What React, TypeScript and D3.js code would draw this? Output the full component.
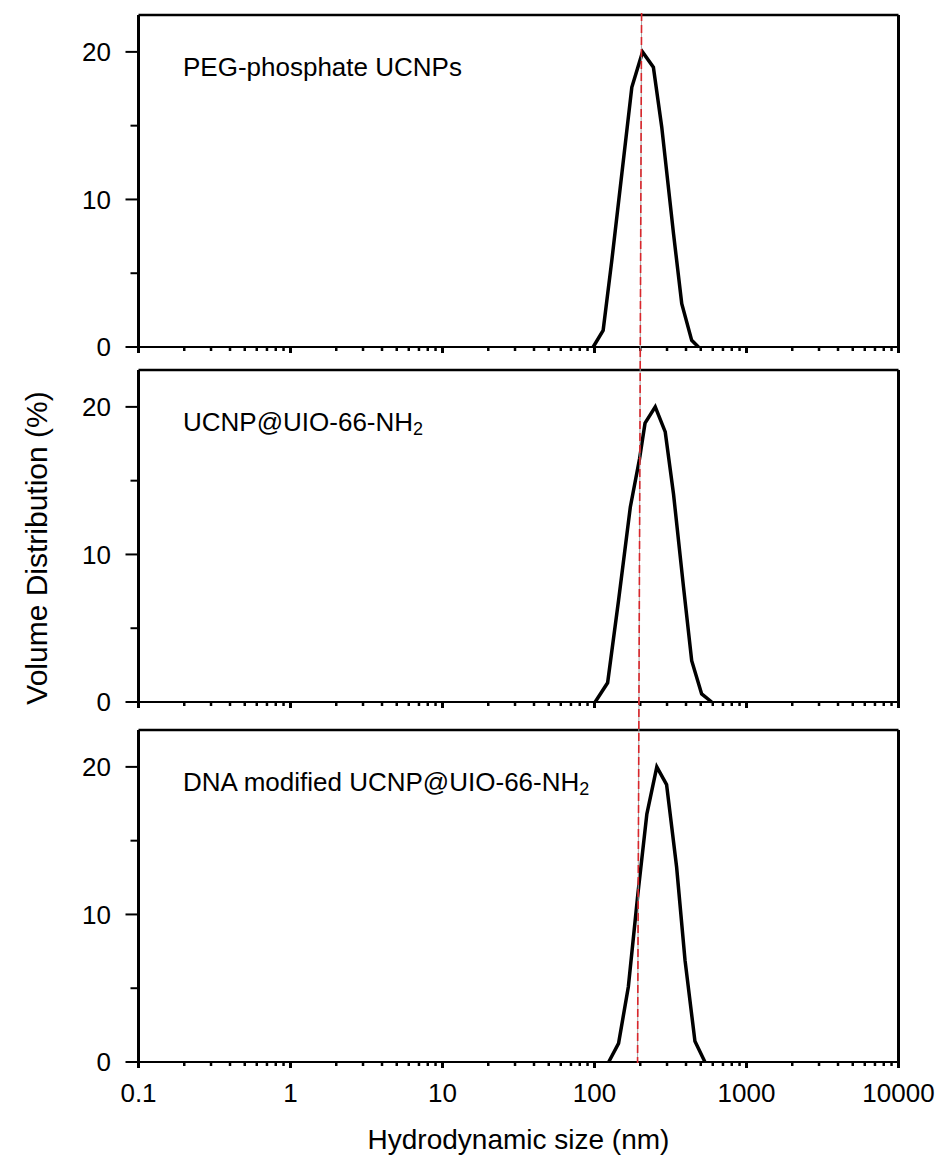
import React from "react";
import * as d3 from "d3";

// ---- data ----
const panelLabels = ["PEG-phosphate UCNPs", "UCNP@UIO-66-NH", "DNA modified UCNP@UIO-66-NH"];
const panelSubscripts = ["", "2", "2"];

const sizesPEG = [98, 114, 130, 176, 207, 244, 277, 331, 375, 436, 483];
const volPEG = [0, 1.13, 5.87, 17.6, 20.0, 18.96, 14.9, 7.68, 2.94, 0.45, 0];

const sizesMOF = [101, 122, 144, 172, 198, 215, 251, 292, 331, 385, 436, 507, 590];
const volMOF = [0, 1.3, 6.9, 13.2, 16.5, 18.9, 20.0, 18.3, 14.1, 7.8, 2.8, 0.55, 0];

const sizesDNA = [124, 144, 167, 193, 221, 257, 298, 347, 394, 458, 533];
const volDNA = [0, 1.26, 5.1, 11.4, 16.8, 20.0, 18.8, 13.2, 6.9, 1.4, 0];

const xTickValues = [0.1, 1, 10, 100, 1000, 10000];
const xTickLabels = ["0.1", "1", "10", "100", "1000", "10000"];
const yTickValues = [0, 10, 20];
const yMinorValues = [5, 15];
const refLineSizes = [204, 192]; // top, bottom of dashed reference line

const series = [
  { x: sizesPEG, y: volPEG },
  { x: sizesMOF, y: volMOF },
  { x: sizesDNA, y: volDNA },
];

// ---- layout ----
const W = 941;
const H = 1157;
const left = 138.5;
const right = 898.5;
const panelBottoms = [347, 702, 1062];
const panelHeight = 332;
const FONT = "'Liberation Sans', Arial, Helvetica, sans-serif";

export default function App() {
  const x = d3.scaleLog().domain([0.1, 10000]).range([left, right]);
  const minorTicks: number[] = [];
  for (let e = -1; e < 4; e++) {
    for (let m = 2; m <= 9; m++) minorTicks.push(m * Math.pow(10, e));
  }

  const panels = series.map((s, i) => {
    const bottom = panelBottoms[i];
    const top = bottom - panelHeight;
    const y = d3.scaleLinear().domain([0, 22.5]).range([bottom, top]);
    const pts = s.x.map((v, k) => [v, s.y[k]] as [number, number]);
    const line = d3
      .line<[number, number]>()
      .x((d) => x(d[0]))
      .y((d) => y(d[1]));
    return (
      <g key={i}>
        <line x1={left} x2={right} y1={top} y2={top} stroke="#000" strokeWidth={2.5} />
        <line x1={right} x2={right} y1={top} y2={bottom + 6} stroke="#000" strokeWidth={3} />
        <line x1={left} x2={left} y1={top} y2={bottom + 6} stroke="#000" strokeWidth={3} />
        <line x1={left} x2={right} y1={bottom} y2={bottom} stroke="#000" strokeWidth={2} />
        {xTickValues.map((t) => (
          <line key={"M" + t} x1={x(t)} x2={x(t)} y1={bottom} y2={bottom + 6} stroke="#000" strokeWidth={3} />
        ))}
        {minorTicks.map((t) => (
          <line key={"m" + t} x1={x(t)} x2={x(t)} y1={bottom} y2={bottom + 4} stroke="#000" strokeWidth={2.5} />
        ))}
        {yTickValues.map((t) => (
          <g key={"y" + t}>
            <line x1={left - 13} x2={left} y1={y(t)} y2={y(t)} stroke="#000" strokeWidth={2} />
            <text x={111} y={y(t)} dy="0.35em" textAnchor="end" fontFamily={FONT} fontSize={26} fill="#000">
              {t}
            </text>
          </g>
        ))}
        {yMinorValues.map((t) => (
          <line key={"ym" + t} x1={left - 8} x2={left} y1={y(t)} y2={y(t)} stroke="#000" strokeWidth={2} />
        ))}
        <path d={line(pts) || ""} fill="none" stroke="#000" strokeWidth={3.5} strokeLinejoin="miter" />
        <text x={183} y={top + 61} fontFamily={FONT} fontSize={26} fill="#000">
          {panelLabels[i]}
          {panelSubscripts[i] && (
            <tspan fontSize={18} dy={4}>
              {panelSubscripts[i]}
            </tspan>
          )}
        </text>
      </g>
    );
  });

  const refTop = panelBottoms[0] - panelHeight - 2;
  const refBottom = panelBottoms[2] + 1;

  return (
    <svg width={W} height={H} style={{ position: "absolute", left: 0, top: 0, background: "#fff" }}>
      <rect x={0} y={0} width={W} height={H} fill="#fff" />
      {panels}
      {xTickValues.map((t, i) => (
        <text key={"xl" + t} x={x(t)} y={1102} textAnchor="middle" fontFamily={FONT} fontSize={26} fill="#000">
          {xTickLabels[i]}
        </text>
      ))}
      <line x1={x(refLineSizes[0])} x2={x(refLineSizes[1])} y1={refTop} y2={refBottom} stroke="#aaa" strokeWidth={1} />
      <line
        x1={x(refLineSizes[0])}
        x2={x(refLineSizes[1])}
        y1={refTop}
        y2={refBottom}
        stroke="#d9262b"
        strokeWidth={1.6}
        strokeDasharray="8 4"
      />
      <text x={(left + right) / 2} y={1149} textAnchor="middle" fontFamily={FONT} fontSize={28} fill="#000">
        Hydrodynamic size (nm)
      </text>
      <text
        transform={`translate(47, 548) rotate(-90)`}
        textAnchor="middle"
        fontFamily={FONT}
        fontSize={30}
        fill="#000"
      >
        Volume Distribution (%)
      </text>
    </svg>
  );
}
